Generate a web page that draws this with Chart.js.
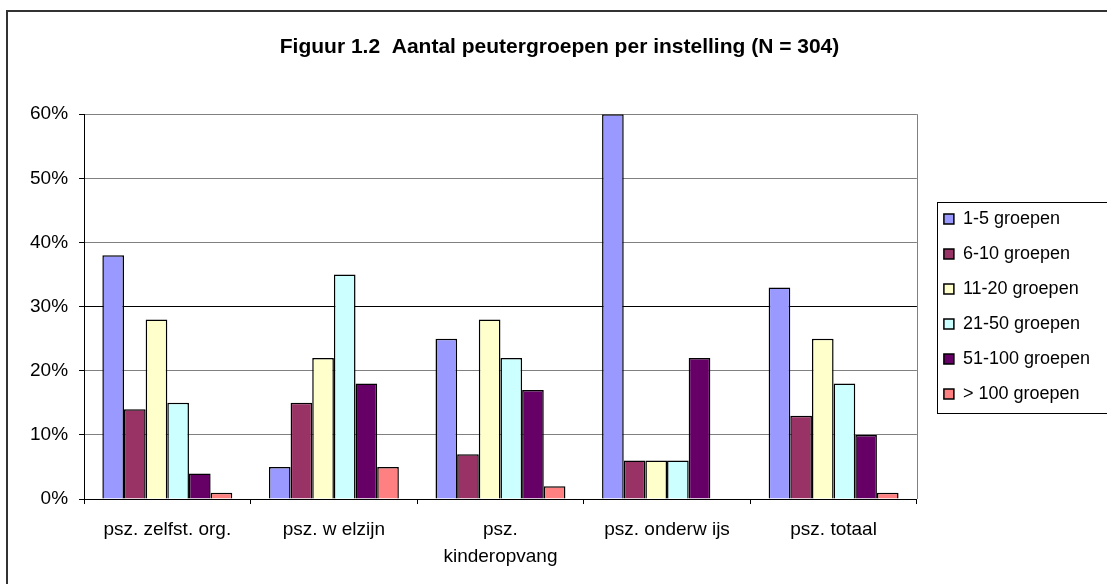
<!DOCTYPE html>
<html>
<head>
<meta charset="utf-8">
<script src="https://cdn.jsdelivr.net/npm/chart.js@4"></script>
<style>
html, body { margin: 0; padding: 0; background: #fff; }
#wrap { position: relative; width: 1107px; height: 584px; }
</style>
</head>
<body>
<div id="wrap"><canvas id="chart"></canvas></div>
<script>
// data
const categories = ['psz. zelfst. org.', 'psz. w elzijn', ['psz.', 'kinderopvang'], 'psz. onderw ijs', 'psz. totaal'];
const seriesNames = ['1-5 groepen', '6-10 groepen', '11-20 groepen', '21-50 groepen', '51-100 groepen', '> 100 groepen'];
const groepen1_5 = [38, 5, 25, 60, 33];
const groepen6_10 = [14, 15, 7, 6, 13];
const groepen11_20 = [28, 22, 28, 6, 25];
const groepen21_50 = [15, 35, 22, 6, 18];
const groepen51_100 = [4, 18, 17, 22, 10];
const groepen100plus = [1, 5, 2, 0, 1];
const yTicks = [0, 10, 20, 30, 40, 50, 60];

const colors = ['#9999FF', '#993366', '#FFFFCC', '#CCFFFF', '#660066', '#FF8080'];
const allValues = [groepen1_5, groepen6_10, groepen11_20, groepen21_50, groepen51_100, groepen100plus];

const FONT = '"Liberation Sans", Arial, sans-serif';

const framePlugin = {
    id: 'frame',
    beforeDraw(chart) {
        const c = chart.ctx;
        c.save();
        c.fillStyle = '#fff';
        c.fillRect(0, 0, chart.width, chart.height);
        // outer frame, only left and top edges fall inside the picture
        c.strokeStyle = '#333';
        c.lineWidth = 2;
        c.strokeRect(7, 11, chart.width + 20, chart.height + 20);
        c.restore();
    },
    afterDraw(chart) {
        const a = chart.chartArea;
        const c = chart.ctx;
        c.save();
        // right edge of the plot area
        c.strokeStyle = '#808080';
        c.lineWidth = 1;
        c.beginPath();
        c.moveTo(Math.round(a.right) + 0.5, a.top);
        c.lineTo(Math.round(a.right) + 0.5, a.bottom);
        c.stroke();
        // box round the legend
        const boxes = chart.legend.legendHitBoxes;
        if (boxes && boxes.length) {
            const left = Math.min(...boxes.map(b => b.left)) - 7;
            const top = Math.min(...boxes.map(b => b.top)) - 8;
            const bottom = Math.max(...boxes.map(b => b.top + b.height)) + 10;
            c.strokeStyle = '#000';
            c.strokeRect(Math.round(left) + 0.5, Math.round(top) + 0.5, chart.width, Math.round(bottom - top));
        }
        c.restore();
    }
};

new Chart(
    document.getElementById('chart'),
    {
        type: 'bar',
        plugins: [framePlugin],
        data: {
            labels: categories,
            datasets: seriesNames.map((name, i) => ({
                label: name,
                data: allValues[i],
                backgroundColor: colors[i],
                borderColor: '#000',
                borderWidth: 1.5,
                barPercentage: 1,
                categoryPercentage: 0.78
            }))
        },
        options: {
            responsive: true,
            maintainAspectRatio: false,
            animation: false,
            layout: {
                padding: { left: 19, right: 7, top: 0, bottom: 2 }
            },
            plugins: {
                title: {
                    display: true,
                    text: 'Figuur 1.2  Aantal peutergroepen per instelling (N = 304)',
                    color: '#000',
                    font: { family: FONT, size: 21, weight: 'bold', lineHeight: 1.2 },
                    padding: { top: 35, bottom: 54 }
                },
                legend: {
                    position: 'right',
                    align: 'center',
                    fullSize: false,
                    labels: {
                        color: '#000',
                        font: { family: FONT, size: 18 },
                        boxWidth: 10,
                        boxHeight: 10,
                        padding: 17,
                        useBorderRadius: false
                    }
                },
                tooltip: { enabled: false }
            },
            scales: {
                x: {
                    grid: {
                        offset: true,
                        drawOnChartArea: false,
                        drawTicks: true,
                        tickLength: 5,
                        color: '#000'
                    },
                    border: { color: '#000', width: 1 },
                    ticks: {
                        color: '#000',
                        font: { family: FONT, size: 19, lineHeight: 1.42 },
                        padding: 12,
                        maxRotation: 0
                    }
                },
                y: {
                    min: 0,
                    max: 60,
                    afterBuildTicks: (s) => { s.ticks = yTicks.map(v => ({ value: v })); },
                    grid: {
                        color: (ctx) => ctx.tick && ctx.tick.value === 30 ? '#000' : '#808080',
                        tickLength: 5,
                        tickColor: '#000'
                    },
                    border: { color: '#000', width: 1 },
                    ticks: {
                        color: '#000',
                        font: { family: FONT, size: 19 },
                        padding: 11,
                        callback: (v) => v + '%'
                    }
                },
                // empty axis, only keeps a gap between plot and legend
                gap: {
                    type: 'linear',
                    position: 'right',
                    display: true,
                    grid: { display: false },
                    border: { display: false },
                    ticks: { display: false },
                    afterFit: (s) => { s.width = 10; }
                }
            }
        }
    }
);
</script>
</body>
</html>
